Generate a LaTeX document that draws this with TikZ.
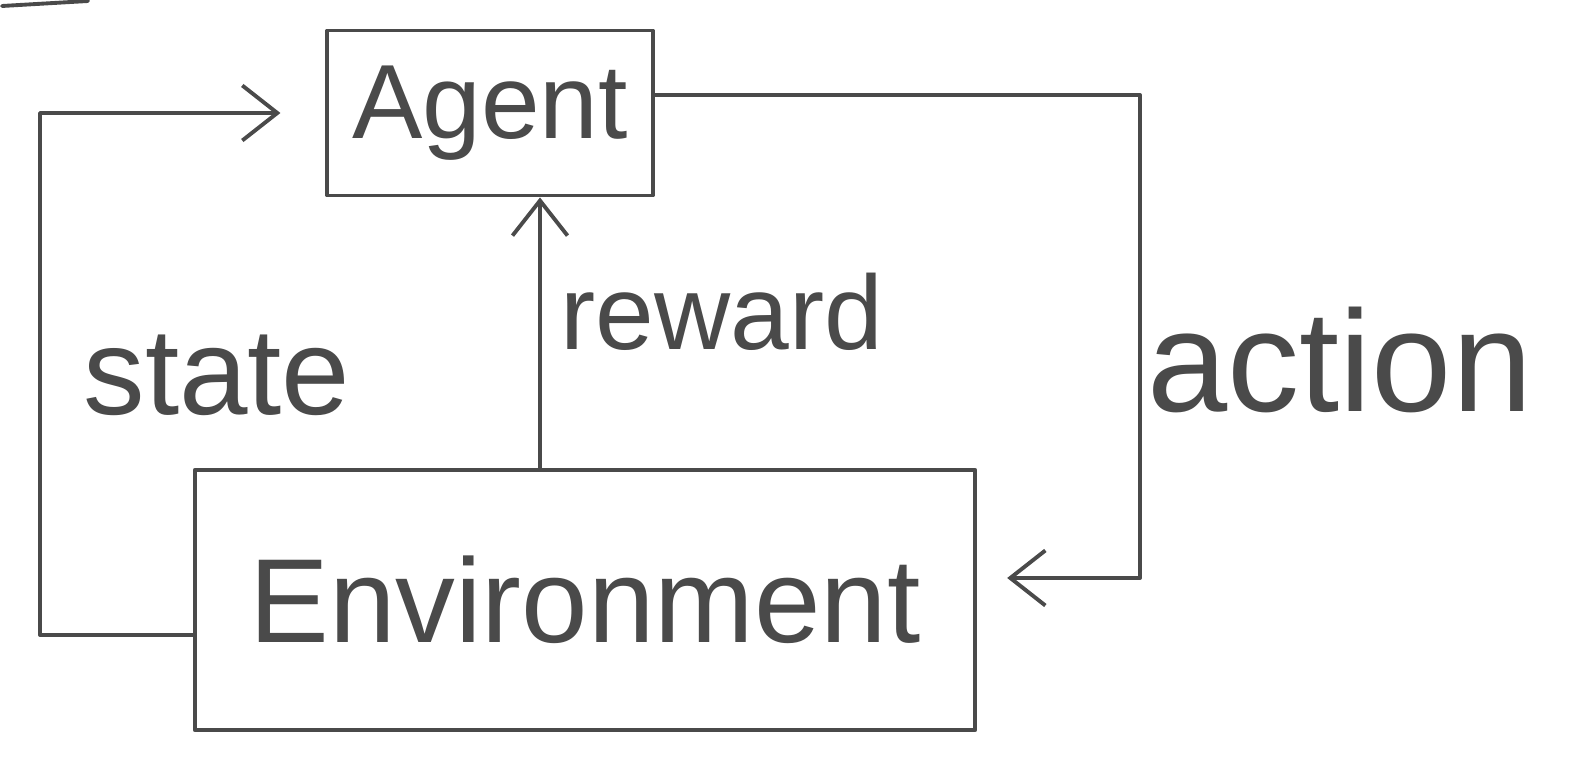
\documentclass[tikz,border=0pt]{standalone}
\usepackage{fontspec}
\setmainfont{Liberation Sans}
\usetikzlibrary{arrows.meta}
\definecolor{ink}{HTML}{4A4A4A}
\begin{document}
\begin{tikzpicture}[x=0.01cm,y=-0.01cm,
  ink line/.style={draw=ink,line width=1.1pt,line join=round,line cap=round},
  boxnode/.style={ink line,rectangle,inner sep=0pt,text=ink},
  arr/.style={ink line,-{Straight Barb[length=3.5mm,width=5.5mm,line width=1.1pt]}},
  lbl/.style={text=ink,inner sep=0pt}]
\useasboundingbox (0,0) rectangle (1575,770);
\fill[white] (0,0) rectangle (1575,770);
% stray stroke at the top-left corner
\draw[ink line] (2,6) -- (88,1);
% boxes
\node[boxnode,minimum width=3.25cm,minimum height=1.65cm,font=\fontsize{30}{34}\selectfont] (agent) at (490,113) {Agent};
\node[boxnode,minimum width=7.8cm,minimum height=2.6cm,font=\fontsize{34}{38}\selectfont] (env) at (585,600) {Environment};
% helper coordinates
\coordinate (sc) at (40,0);
\coordinate (rx) at (540,0);
\coordinate (ac) at (1140,0);
\coordinate (sOut) at ([yshift=-0.35cm]env.west);
\coordinate (aIn) at ([yshift=0.22cm]env.east);
\coordinate (aOut) at ([yshift=0.18cm]agent.east);
% state loop
\draw[arr,shorten >=4.5mm] (sOut) -- (sOut -| sc) -- (sc |- agent.west) -- (agent.west);
% reward
\draw[arr] (env.north -| rx) -- (agent.south -| rx);
% action
\draw[arr,shorten >=3mm] (aOut) -- (aOut -| ac) -- (ac |- aIn) -- (aIn);
% labels
\node[lbl,font=\fontsize{35}{40}\selectfont] (lstate) at (217,375) {state};
\node[lbl,font=\fontsize{30}{34}\selectfont] (lreward) at (722,312) {reward};
\node[lbl,font=\fontsize{41}{46}\selectfont] (laction) at (1340,360) {action};
\end{tikzpicture}
\end{document}
